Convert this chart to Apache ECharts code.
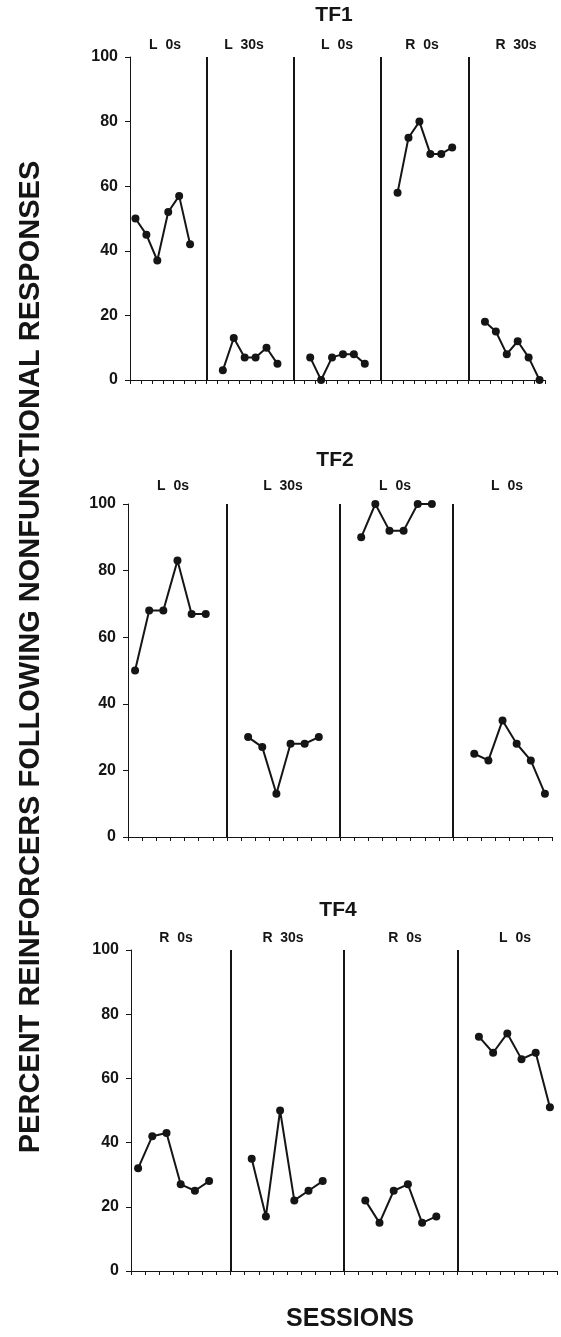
<!DOCTYPE html>
<html>
<head>
<meta charset="utf-8">
<script src="https://cdn.jsdelivr.net/npm/echarts@6/dist/echarts.min.js"></script>
<style>
  html, body { margin: 0; padding: 0; background: #fff; }
  #chart { width: 561px; height: 1337px; }
</style>
</head>
<body>
<div id="chart"></div>
<script>
// percent reinforcers per session, null = no session plotted
var tf1Values = [
    50, 45, 37, 52, 57, 42, null,
    null, 3, 13, 7, 7, 10, 5, null,
    null, 7, 0, 7, 8, 8, 5, null,
    null, 58, 75, 80, 70, 70, 72, null,
    null, 18, 15, 8, 12, 7, 0
];
var tf2Values = [
    50, 68, 68, 83, 67, 67, null,
    null, 30, 27, 13, 28, 28, 30, null,
    null, 90, 100, 92, 92, 100, 100, null,
    null, 25, 23, 35, 28, 23, 13
];
var tf4Values = [
    32, 42, 43, 27, 25, 28, null,
    null, 35, 17, 50, 22, 25, 28, null,
    null, 22, 15, 25, 27, 15, 17, null,
    null, 73, 68, 74, 66, 68, 51
];
// phase change positions (session boundaries)
var tf1Phases = [7, 15, 23, 31];
var tf2Phases = [7, 15, 23];
var tf4Phases = [7, 15, 23];
var tf1Labels = ['L  0s', 'L  30s', 'L  0s', 'R  0s', 'R  30s'];
var tf2Labels = ['L  0s', 'L  30s', 'L  0s', 'L  0s'];
var tf4Labels = ['R  0s', 'R  30s', 'R  0s', 'L  0s'];
var panelNames = ['TF1', 'TF2', 'TF4'];
var yTicks = [0, 20, 40, 60, 80, 100];

var FONT = '"Liberation Sans", Arial, sans-serif';
var INK = '#151515';

var panels = [
    { values: tf1Values, phases: tf1Phases, labels: tf1Labels, grid: { left: 130, top: 57, width: 415, height: 323 },
      titleY: 15, labelY: 45, labelX: [165, 244, 337, 422, 516] },
    { values: tf2Values, phases: tf2Phases, labels: tf2Labels, grid: { left: 128, top: 504, width: 424, height: 333 },
      titleY: 460, labelY: 486, labelX: [173, 283, 395, 507] },
    { values: tf4Values, phases: tf4Phases, labels: tf4Labels, grid: { left: 131, top: 950, width: 426, height: 321 },
      titleY: 910, labelY: 938, labelX: [176, 283, 405, 515] }
];
var titleX = [334, 335, 338];

var grids = [], xAxes = [], yAxes = [], series = [], graphics = [];

panels.forEach(function (p, i) {
    var sessions = p.values.map(function (v, k) { return String(k + 1); });
    grids.push(p.grid);
    // category axis with the sessions
    xAxes.push({
        type: 'category',
        gridIndex: i,
        data: sessions,
        boundaryGap: true,
        axisLine: { lineStyle: { color: INK, width: 1.2 } },
        axisTick: { show: true, interval: 0, length: 4, lineStyle: { color: INK, width: 1 } },
        axisLabel: { show: false },
        splitLine: { show: false }
    });
    // hidden value axis for the phase lines
    xAxes.push({
        type: 'value',
        gridIndex: i,
        min: 0,
        max: p.values.length,
        show: false,
        splitLine: { show: false }
    });
    yAxes.push({
        type: 'value',
        gridIndex: i,
        min: yTicks[0],
        max: yTicks[yTicks.length - 1],
        interval: 20,
        axisLine: { show: true, lineStyle: { color: INK, width: 1 } },
        axisTick: { show: true, length: 5, lineStyle: { color: INK, width: 1 } },
        axisLabel: { margin: 12, color: INK, fontFamily: FONT, fontWeight: 'bold', fontSize: 16 },
        splitLine: { show: false }
    });
    series.push({
        type: 'line',
        xAxisIndex: i * 2,
        yAxisIndex: i,
        data: p.values,
        connectNulls: false,
        showSymbol: true,
        showAllSymbol: true,
        symbol: 'circle',
        symbolSize: 8,
        itemStyle: { color: INK },
        lineStyle: { color: INK, width: 2 },
        silent: true,
        animation: false
    });
    series.push({
        type: 'line',
        xAxisIndex: i * 2 + 1,
        yAxisIndex: i,
        data: [],
        silent: true,
        animation: false,
        markLine: {
            symbol: ['none', 'none'],
            silent: true,
            label: { show: false },
            lineStyle: { color: INK, width: 2, type: 'solid' },
            data: p.phases.map(function (b) { return { xAxis: b }; })
        }
    });
    graphics.push({
        type: 'text',
        x: titleX[i],
        y: p.titleY,
        style: { text: panelNames[i], font: 'bold 21px ' + FONT, fill: INK, textAlign: 'center', textVerticalAlign: 'middle' }
    });
    p.labels.forEach(function (t, k) {
        graphics.push({
            type: 'text',
            x: p.labelX[k],
            y: p.labelY,
            style: { text: t, font: 'bold 14px ' + FONT, fill: INK, textAlign: 'center', textVerticalAlign: 'middle' }
        });
    });
});

graphics.push({
    type: 'text',
    x: 31,
    y: 657,
    rotation: Math.PI / 2,
    style: {
        text: 'PERCENT REINFORCERS FOLLOWING NONFUNCTIONAL RESPONSES',
        font: 'bold 29px ' + FONT, fill: INK, textAlign: 'center', textVerticalAlign: 'middle'
    }
});
graphics.push({
    type: 'text',
    x: 350,
    y: 1319,
    style: { text: 'SESSIONS', font: 'bold 25px ' + FONT, fill: INK, textAlign: 'center', textVerticalAlign: 'middle' }
});

var chart = echarts.init(document.getElementById('chart'), null, { renderer: 'canvas' });
chart.setOption({
    backgroundColor: '#ffffff',
    animation: false,
    grid: grids,
    xAxis: xAxes,
    yAxis: yAxes,
    series: series,
    graphic: graphics
});
</script>
</body>
</html>
